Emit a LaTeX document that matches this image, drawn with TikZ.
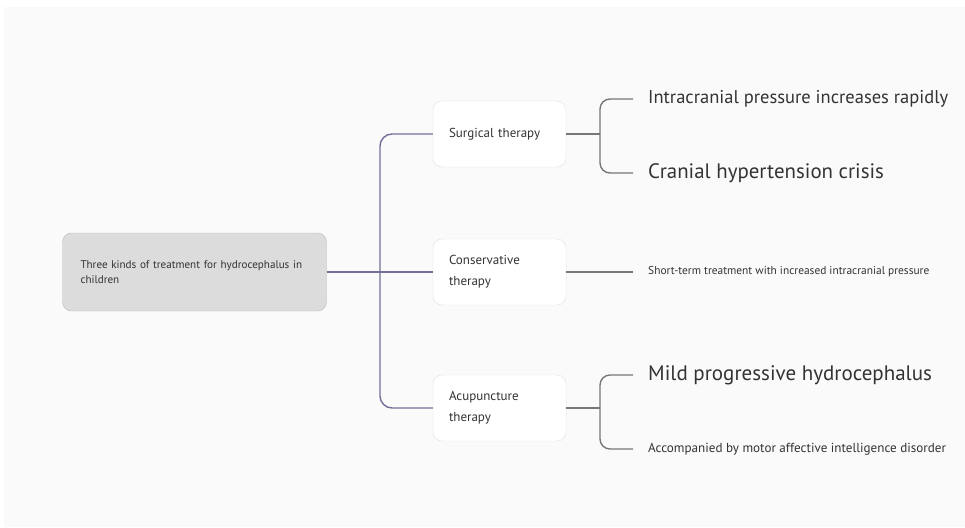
\documentclass[tikz,border=0pt]{standalone}
\usepackage{fontspec}
\setmainfont{PT Sans}
\usetikzlibrary{positioning, calc}

\definecolor{bgc}{HTML}{FAFAFA}
\definecolor{txt}{HTML}{333333}
\definecolor{trunkc}{HTML}{72709A}
\definecolor{branchc}{HTML}{777777}
\definecolor{rootfill}{HTML}{DCDCDC}
\definecolor{rootline}{HTML}{BDBDBD}
\definecolor{boxline}{HTML}{E0E0E0}

\begin{document}
\begin{tikzpicture}[
    x=1pt, y=-1pt,
    rootbox/.style={draw=rootline, fill=rootfill, rounded corners=9pt, text=txt,
        minimum width=263pt, minimum height=78pt, text width=228pt, align=left,
        inner xsep=18pt, font=\fontsize{11.1}{15}\selectfont},
    kid/.style={draw=boxline, fill=white, rounded corners=9pt, text=txt,
        minimum width=133pt, minimum height=66pt, text width=101pt, align=left,
        inner xsep=16pt, font=\fontsize{13}{21}\selectfont},
    leaf/.style={anchor=west, inner sep=0pt, text=txt},
    trunk/.style={draw=trunkc, line width=1.4pt},
    branch/.style={draw=branchc, line width=1.4pt},
]
\fill[bgc] (4,7) rectangle (965,527);
\useasboundingbox (0,0) rectangle (965,527);

% === root and first level ===
\node[rootbox] (root) at (194.5,272) {Three kinds of treatment for hydrocephalus in children};
\node[kid] (surg) at (499.5,134) {Surgical therapy};
\node[kid] (cons) at (499.5,272) {Conservative\\therapy};
\node[kid] (acu) at (499.5,408) {Acupuncture\\therapy};

% === leaves ===
\node[leaf, font=\fontsize{18.5}{22}\selectfont] (s1) at (648,99) {Intracranial pressure increases rapidly};
\node[leaf, font=\fontsize{20.9}{24}\selectfont] (s2) at (648,173) {Cranial hypertension crisis};
\node[leaf, font=\fontsize{11.4}{13}\selectfont] (c1) at (648,272) {Short-term treatment with increased intracranial pressure};
\node[leaf, font=\fontsize{21}{24}\selectfont] (a1) at (648,375) {Mild progressive hydrocephalus};
\node[leaf, font=\fontsize{13.1}{15}\selectfont] (a2) at (648,449) {Accompanied by motor affective intelligence disorder};

% === trunk ===
\coordinate (fork) at (380,272);
\draw[trunk] (root.east) -- (fork);
\draw[trunk, rounded corners=12pt] (fork) |- (surg.west);
\draw[trunk] (fork) -- (cons.west);
\draw[trunk, rounded corners=12pt] (fork) |- (acu.west);

% === branches ===
\coordinate (sfork) at (600,134);
\coordinate (afork) at (600,408);
\draw[branch] (surg.east) -- (sfork);
\draw[branch, rounded corners=10pt] ([xshift=-15pt]s1.west) -| (sfork) |- ([xshift=-15pt]s2.west);
\draw[branch] (cons.east) -- ($(cons.east -| c1.west)+(-15,0)$);
\draw[branch] (acu.east) -- (afork);
\draw[branch, rounded corners=10pt] ([xshift=-15pt]a1.west) -| (afork) |- ([xshift=-15pt]a2.west);
\end{tikzpicture}
\end{document}
